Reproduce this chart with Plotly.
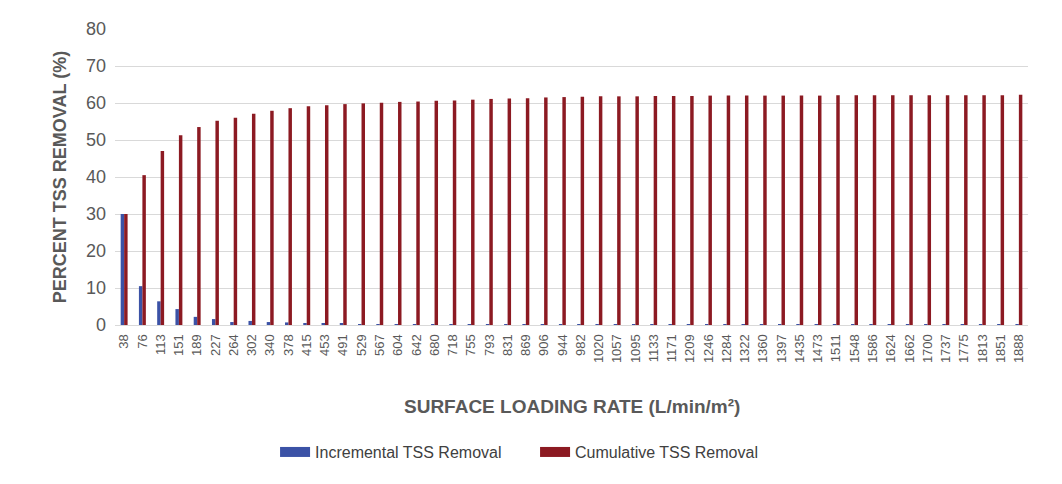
import plotly.graph_objects as go

categories = ["38", "76", "113", "151", "189", "227", "264", "302", "340", "378",
              "415", "453", "491", "529", "567", "604", "642", "680", "718", "755",
              "793", "831", "869", "906", "944", "982", "1020", "1057", "1095", "1133",
              "1171", "1209", "1246", "1284", "1322", "1360", "1397", "1435", "1473", "1511",
              "1548", "1586", "1624", "1662", "1700", "1737", "1775", "1813", "1851", "1888"]

incremental = [30.0, 10.5, 6.4, 4.3, 2.2, 1.6, 0.8, 1.1, 0.8, 0.7,
               0.5, 0.3, 0.3, 0.2, 0.2, 0.2, 0.2, 0.1, 0.1, 0.2,
               0.2, 0.1, 0.1, 0.2, 0.1, 0.1, 0.05, 0.1, 0.05, 0.05,
               0.05, 0.05, 0.05, 0.05, 0.05, 0.05, 0.05, 0.05, 0.05, 0.05,
               0.05, 0.05, 0.05, 0.05, 0.05, 0.05, 0.05, 0.05, 0.05, 0.05]

cumulative = [30.0, 40.5, 47.0, 51.3, 53.5, 55.2, 56.0, 57.1, 57.9, 58.6,
              59.1, 59.4, 59.7, 59.9, 60.1, 60.3, 60.4, 60.6, 60.7, 60.9,
              61.1, 61.2, 61.3, 61.5, 61.6, 61.7, 61.8, 61.8, 61.8, 61.9,
              61.9, 61.9, 62.0, 62.0, 62.0, 62.0, 62.0, 62.0, 62.0, 62.1,
              62.1, 62.1, 62.1, 62.1, 62.1, 62.1, 62.1, 62.1, 62.1, 62.2]

series_names = ["Incremental TSS Removal", "Cumulative TSS Removal"]
series_colors = ["#3B52A6", "#8C1A22"]

font_family = "Arial, Liberation Sans, sans-serif"
gray = "#595959"

fig = go.Figure()
for name, vals, col in zip(series_names, [incremental, cumulative], series_colors):
    fig.add_trace(go.Bar(x=categories, y=vals, name=name, legendgroup=name,
                         showlegend=False,
                         marker=dict(color=col, line=dict(width=0))))
# legend entries drawn as wide swatches
for name, col in zip(series_names, series_colors):
    fig.add_trace(go.Scatter(x=[None], y=[None], mode="lines", name=name,
                             legendgroup=name, line=dict(color=col, width=13),
                             hoverinfo="skip"))

fig.update_layout(
    width=1062, height=484,
    margin=dict(l=115, r=34, t=29, b=159),
    paper_bgcolor="white", plot_bgcolor="white",
    barmode="group", bargap=0.62, bargroupgap=0.0,
    font=dict(family=font_family, color=gray),
    showlegend=True,
    legend=dict(orientation="h", xref="container", xanchor="left", x=0.259,
                yref="container", yanchor="middle", y=0.066,
                font=dict(size=16, color="#404040"), itemwidth=30,
                entrywidth=215, entrywidthmode="pixels",
                traceorder="normal"),
    annotations=[
        dict(text="<b>SURFACE LOADING RATE (L/min/m²)</b>", xref="paper", yref="paper",
             x=0.5, y=-0.274, showarrow=False, xanchor="center", yanchor="middle",
             font=dict(size=19, color=gray, family=font_family)),
        dict(text="<b>PERCENT TSS REMOVAL (%)</b>", xref="paper", yref="paper",
             x=-0.060, y=0.5, showarrow=False, textangle=-90,
             xanchor="center", yanchor="middle",
             font=dict(size=18, color=gray, family=font_family)),
    ],
)

fig.update_xaxes(type="category", tickangle=-90, tickfont=dict(size=13, color=gray),
                 showgrid=False, showline=True, linecolor="#d9d9d9", ticks="",
                 ticklabelstandoff=3)
fig.update_yaxes(range=[0, 80], dtick=10, tickfont=dict(size=18, color=gray),
                 showgrid=True, gridcolor="#d9d9d9", gridwidth=1, zeroline=False,
                 ticks="", ticklabelstandoff=8)

fig.write_html("out.html")
